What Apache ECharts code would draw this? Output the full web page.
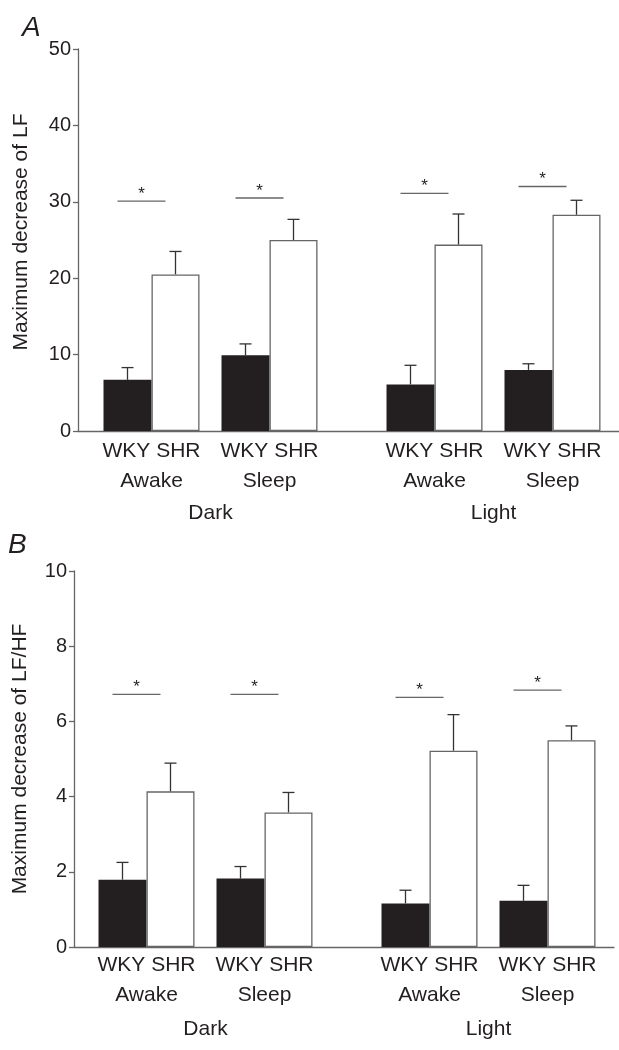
<!DOCTYPE html>
<html>
<head>
<meta charset="utf-8">
<script src="https://cdn.jsdelivr.net/npm/echarts@6/dist/echarts.min.js"></script>
<style>
  html, body { margin: 0; padding: 0; background: #fff; }
  #chart { width: 619px; height: 1050px; }
</style>
</head>
<body>
<div id="chart"></div>
<script>
  // groups on the category axis
  var groups = ['Dark', 'Light']

  // panel A: maximum decrease of LF (mean, SEM) per group
  var lfWkyAwake = [6.7, 6.1]
  var lfShrAwake = [20.5, 24.4]
  var lfWkySleep = [9.9, 8.0]
  var lfShrSleep = [25.0, 28.3]
  var lfWkyAwakeSem = [1.6, 2.5]
  var lfShrAwakeSem = [3.0, 4.0]
  var lfWkySleepSem = [1.5, 0.8]
  var lfShrSleepSem = [2.7, 1.9]
  var lfSigAwake = [30.1, 31.1]
  var lfSigSleep = [30.5, 32.0]
  var lfTicks = [0, 50, 10]

  // panel B: maximum decrease of LF/HF
  var ratioWkyAwake = [1.79, 1.16]
  var ratioShrAwake = [4.14, 5.22]
  var ratioWkySleep = [1.82, 1.23]
  var ratioShrSleep = [3.58, 5.50]
  var ratioWkyAwakeSem = [0.46, 0.35]
  var ratioShrAwakeSem = [0.75, 0.96]
  var ratioWkySleepSem = [0.32, 0.41]
  var ratioShrSleepSem = [0.53, 0.38]
  var ratioSigAwake = [6.72, 6.64]
  var ratioSigSleep = [6.72, 6.83]
  var ratioTicks = [0, 10, 2]

  var BAR_W = 48
  var PAIR_GAP = 22
  var CAP = 6
  var SIG_W = 48
  var SIG_SHIFT = -10
  var FONT = '"Liberation Sans", Arial, Helvetica, sans-serif'
  var INK = '#231f20'
  var AXIS = '#666'

  // bar centres relative to the category centre: wky, shr, (gap), wky, shr
  var half = (4 * BAR_W + PAIR_GAP) / 2
  var barCenters = [BAR_W / 2, BAR_W * 1.5, BAR_W * 2.5 + PAIR_GAP, BAR_W * 3.5 + PAIR_GAP].map(c => c - half)
  var pairCenters = [(barCenters[0] + barCenters[1]) / 2, (barCenters[2] + barCenters[3]) / 2]

  function errorData (cols) {
    var out = []
    cols.forEach((col, slot) => {
      col[0].forEach((m, g) => out.push([g, slot, m, col[1][g]]))
    })
    return out
  }

  function sigData (awake, sleep) {
    var out = []
    awake.forEach((v, g) => out.push([g, 0, v]))
    sleep.forEach((v, g) => out.push([g, 1, v]))
    return out
  }

  function renderError (params, api) {
    var dx = barCenters[api.value(1)]
    var base = api.coord([api.value(0), api.value(2)])
    var top = api.coord([api.value(0), api.value(2) + api.value(3)])
    var x = base[0] + dx
    var st = { stroke: '#333', lineWidth: 1.3 }
    return {
      type: 'group',
      children: [
        { type: 'line', shape: { x1: x, y1: base[1], x2: x, y2: top[1] }, style: st },
        { type: 'line', shape: { x1: x - CAP, y1: top[1], x2: x + CAP, y2: top[1] }, style: st }
      ]
    }
  }

  function renderSig (params, api) {
    var p = api.coord([api.value(0), api.value(2)])
    var cx = p[0] + pairCenters[api.value(1)] + SIG_SHIFT
    return {
      type: 'group',
      children: [
        { type: 'line', shape: { x1: cx - SIG_W / 2, y1: p[1], x2: cx + SIG_W / 2, y2: p[1] }, style: { stroke: AXIS, lineWidth: 1.3 } },
        { type: 'text', style: { text: '*', x: cx, y: p[1] - 7, align: 'center', verticalAlign: 'middle', fontSize: 17, fontFamily: FONT, fill: INK } }
      ]
    }
  }

  function pairLabel (text, dist) {
    return {
      show: true,
      position: 'bottom',
      distance: dist,
      offset: [BAR_W / 2, 0],
      formatter: 'WKY SHR\n' + text,
      fontSize: 21,
      lineHeight: 30,
      fontFamily: FONT,
      color: INK
    }
  }

  var wkyStyle = { color: INK }
  var shrStyle = { color: '#fff', borderColor: AXIS, borderWidth: 1.3 }

  // one panel = a bar grid (category axis) + an axis grid drawing the frame
  function panel (opt, p) {
    var gBars = opt.grid.length
    opt.grid.push({ left: p.barLeft, top: p.top, width: 566, height: p.height, outerBoundsMode: 'none' })
    opt.grid.push({ left: p.axisLeft, top: p.top, right: p.axisRight, height: p.height, outerBoundsMode: 'none' })
    var xa = opt.xAxis.length
    opt.xAxis.push({
      gridIndex: gBars, type: 'category', data: groups,
      axisLine: { show: false }, axisTick: { show: false },
      axisLabel: { margin: 72, fontSize: 21, fontFamily: FONT, color: INK }
    })
    opt.xAxis.push({
      gridIndex: gBars + 1, type: 'value', min: 0, max: 1,
      axisLine: { show: true, lineStyle: { color: AXIS, width: 1.3 } },
      axisTick: { show: false }, axisLabel: { show: false }, splitLine: { show: false }
    })
    opt.yAxis.push({
      gridIndex: gBars, type: 'value', min: p.ticks[0], max: p.ticks[1], show: false, splitLine: { show: false }
    })
    opt.yAxis.push({
      gridIndex: gBars + 1, type: 'value', min: p.ticks[0], max: p.ticks[1], interval: p.ticks[2],
      name: p.name, nameLocation: 'middle', nameGap: p.nameGap,
      nameTextStyle: { fontSize: 21, fontFamily: FONT, color: INK, padding: p.namePad },
      axisLine: { show: true, lineStyle: { color: AXIS, width: 1.3 } },
      axisTick: { show: true, length: 5, lineStyle: { color: AXIS, width: 1.3 } },
      axisLabel: { margin: 7, fontSize: 20, fontFamily: FONT, color: INK },
      splitLine: { show: false }
    })
    var ax = { xAxisIndex: xa, yAxisIndex: xa }
    var bars = [
      Object.assign({ type: 'bar', data: p.wkyAwake, itemStyle: wkyStyle, label: pairLabel('Awake', p.labelDist) }, ax),
      Object.assign({ type: 'bar', data: p.shrAwake, itemStyle: shrStyle }, ax),
      Object.assign({ type: 'bar', data: groups.map(() => 0), barWidth: PAIR_GAP, itemStyle: { color: 'transparent' }, silent: true }, ax),
      Object.assign({ type: 'bar', data: p.wkySleep, itemStyle: wkyStyle, label: pairLabel('Sleep', p.labelDist) }, ax),
      Object.assign({ type: 'bar', data: p.shrSleep, itemStyle: shrStyle }, ax)
    ]
    bars.forEach(b => {
      if (!b.barWidth) b.barWidth = BAR_W
      b.barGap = '0%'
      opt.series.push(b)
    })
    opt.series.push(Object.assign({
      type: 'custom', renderItem: renderError, encode: { x: 0, y: 2 }, z: 5,
      data: errorData([[p.wkyAwake, p.wkyAwakeSem], [p.shrAwake, p.shrAwakeSem], [p.wkySleep, p.wkySleepSem], [p.shrSleep, p.shrSleepSem]])
    }, ax))
    opt.series.push(Object.assign({
      type: 'custom', renderItem: renderSig, encode: { x: 0, y: 2 }, z: 5,
      data: sigData(p.sigAwake, p.sigSleep)
    }, ax))
  }

  var option = {
    animation: false,
    backgroundColor: '#fff',
    title: [
      { text: 'A', left: 17, top: 9, textStyle: { fontSize: 28, fontStyle: 'italic', fontWeight: 'normal', fontFamily: FONT, color: INK } },
      { text: 'B', left: 3, top: 526, textStyle: { fontSize: 28, fontStyle: 'italic', fontWeight: 'normal', fontFamily: FONT, color: INK } }
    ],
    grid: [],
    xAxis: [],
    yAxis: [],
    series: []
  }

  panel(option, {
    top: 49, height: 382, barLeft: 69, axisLeft: 78, axisRight: 0, nameGap: 46, namePad: [0, 0, 0, 16], labelDist: 5,
    name: 'Maximum decrease of LF', ticks: lfTicks,
    wkyAwake: lfWkyAwake, shrAwake: lfShrAwake, wkySleep: lfWkySleep, shrSleep: lfShrSleep,
    wkyAwakeSem: lfWkyAwakeSem, shrAwakeSem: lfShrAwakeSem, wkySleepSem: lfWkySleepSem, shrSleepSem: lfShrSleepSem,
    sigAwake: lfSigAwake, sigSleep: lfSigSleep
  })
  panel(option, {
    top: 571, height: 376, barLeft: 64, axisLeft: 74, axisRight: 5, nameGap: 43, namePad: 0, labelDist: 3,
    name: 'Maximum decrease of LF/HF', ticks: ratioTicks,
    wkyAwake: ratioWkyAwake, shrAwake: ratioShrAwake, wkySleep: ratioWkySleep, shrSleep: ratioShrSleep,
    wkyAwakeSem: ratioWkyAwakeSem, shrAwakeSem: ratioShrAwakeSem, wkySleepSem: ratioWkySleepSem, shrSleepSem: ratioShrSleepSem,
    sigAwake: ratioSigAwake, sigSleep: ratioSigSleep
  })

  var chart = echarts.init(document.getElementById('chart'))
  chart.setOption(option)
</script>
</body>
</html>
